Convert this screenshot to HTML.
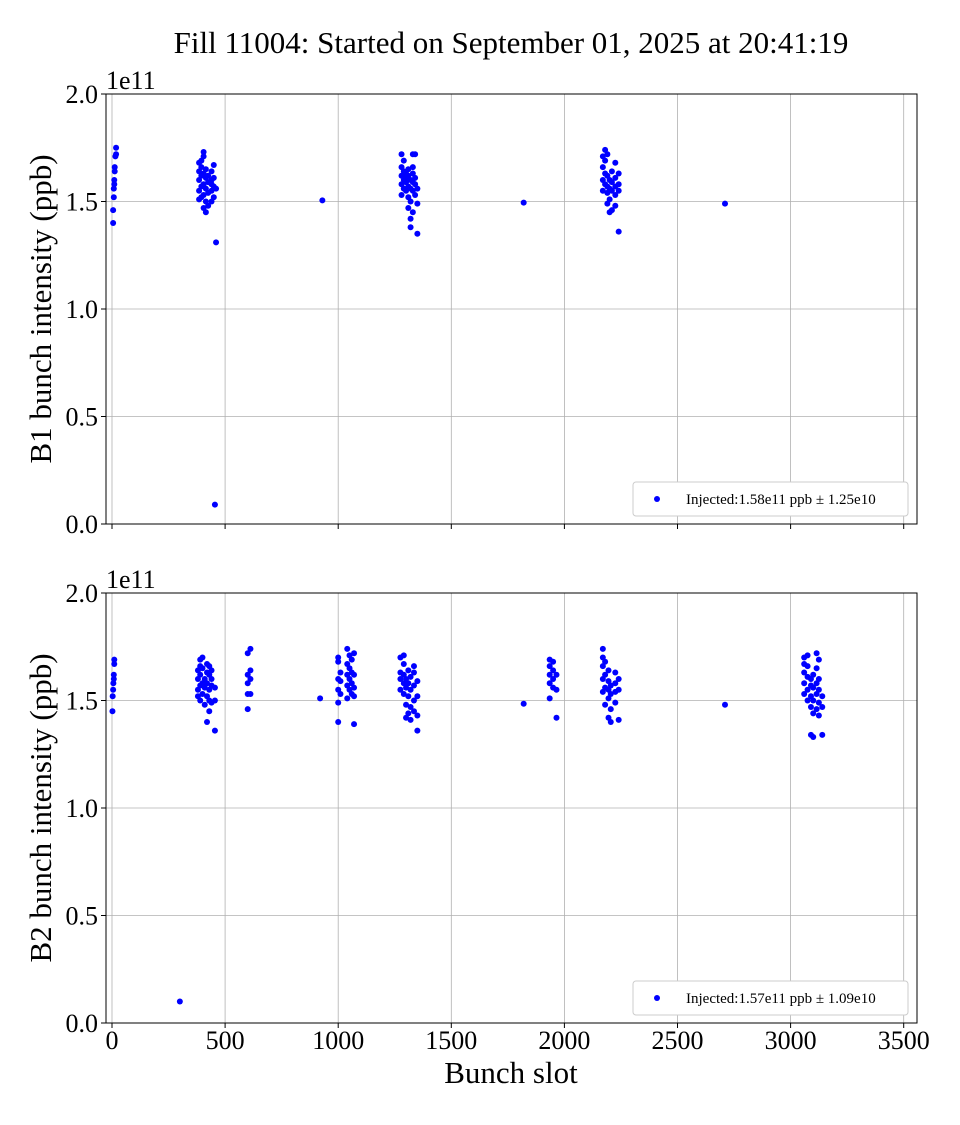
<!DOCTYPE html>
<html><head><meta charset="utf-8"><style>
body{margin:0;background:#fff}
svg text{font-family:"Liberation Serif",serif;fill:#000}
</style></head><body>
<svg id="chart" width="960" height="1120">
<text x="511" y="53" font-size="31" text-anchor="middle">Fill 11004: Started on September 01, 2025 at 20:41:19</text>
</svg>
<script>
const xTicks=[0,500,1000,1500,2000,2500,3000,3500];
const yTicks=[0,0.5,1.0,1.5,2.0];
const b1Groups=[
[5,[1.40,1.46]],[8,[1.52,1.56]],[10,[1.58,1.60]],[12,[1.64,1.66]],[15,[1.71]],[18,[1.72,1.75]],
[385,[1.51,1.55,1.60,1.64,1.68]],[395,[1.52,1.57,1.62,1.66,1.69]],[405,[1.47,1.53,1.58,1.63,1.71,1.73]],
[415,[1.45,1.50,1.56,1.61,1.65]],[425,[1.48,1.54,1.59,1.62]],[440,[1.50,1.55,1.58,1.60,1.64]],
[450,[1.52,1.57,1.61,1.67]],[455,[0.09]],[460,[1.31,1.56]],
[930,[1.505]],
[1280,[1.53,1.58,1.62,1.66,1.72]],[1290,[1.56,1.60,1.64,1.69]],[1300,[1.55,1.59,1.61,1.63]],
[1310,[1.47,1.52,1.57,1.62,1.65]],[1320,[1.38,1.42,1.50,1.56,1.60]],[1330,[1.45,1.55,1.59,1.63,1.66,1.72]],
[1340,[1.53,1.58,1.61,1.72]],[1350,[1.35,1.49,1.56]],
[1820,[1.495]],
[2170,[1.55,1.60,1.66,1.71]],[2180,[1.58,1.63,1.69,1.74]],[2190,[1.49,1.54,1.57,1.62,1.72]],
[2200,[1.45,1.51,1.56,1.60]],[2210,[1.46,1.55,1.59,1.64]],[2225,[1.48,1.53,1.57,1.61,1.68]],
[2240,[1.36,1.55,1.58,1.63]],
[2710,[1.49]]];
const b2Groups=[
[2,[1.45]],[3,[1.52]],[5,[1.55]],[6,[1.58]],[8,[1.60,1.62]],[10,[1.67,1.69]],
[300,[0.10]],
[380,[1.52,1.55,1.60,1.64]],[390,[1.50,1.57,1.62,1.66,1.69]],[400,[1.53,1.58,1.65,1.70]],
[410,[1.48,1.56,1.60]],[420,[1.40,1.52,1.58,1.63,1.67]],[430,[1.45,1.50,1.55,1.62,1.66]],
[440,[1.49,1.57,1.60,1.64]],[455,[1.36,1.50,1.56]],
[600,[1.46,1.53,1.58,1.62,1.72]],[612,[1.53,1.60,1.64,1.74]],
[920,[1.51]],
[1000,[1.40,1.49,1.55,1.60,1.68,1.70]],[1010,[1.53,1.59,1.63]],[1040,[1.51,1.57,1.62,1.67,1.74]],
[1050,[1.55,1.60,1.65,1.71]],[1060,[1.53,1.58,1.63,1.69]],[1070,[1.39,1.52,1.56,1.62,1.72]],
[1275,[1.55,1.60,1.63,1.70]],[1290,[1.53,1.58,1.62,1.67,1.71]],[1300,[1.42,1.48,1.56,1.60]],
[1310,[1.44,1.52,1.58,1.64]],[1320,[1.41,1.47,1.55,1.61]],[1335,[1.45,1.50,1.57,1.63,1.66]],
[1350,[1.36,1.43,1.52,1.59]],
[1820,[1.485]],
[1935,[1.51,1.58,1.62,1.66,1.69]],[1950,[1.56,1.60,1.64,1.68]],[1965,[1.42,1.55,1.62]],
[2170,[1.54,1.60,1.66,1.70,1.74]],[2180,[1.48,1.56,1.62,1.68]],[2195,[1.42,1.51,1.55,1.59,1.64]],
[2205,[1.40,1.46,1.53,1.57]],[2225,[1.49,1.54,1.58,1.63]],[2240,[1.41,1.55,1.60]],
[2710,[1.48]],
[3060,[1.53,1.58,1.63,1.67,1.70]],[3075,[1.50,1.55,1.61,1.66,1.71]],[3090,[1.34,1.47,1.52,1.57,1.60]],
[3100,[1.33,1.44,1.50,1.56,1.62]],[3115,[1.46,1.53,1.58,1.65,1.72]],[3125,[1.43,1.49,1.55,1.60,1.69]],
[3140,[1.34,1.47,1.52]]];
const legendLabels=["Injected:1.58e11 ppb \u00b1 1.25e10","Injected:1.57e11 ppb \u00b1 1.09e10"];
const yLabels=["B1 bunch intensity (ppb)","B2 bunch intensity (ppb)"];

const NS="http://www.w3.org/2000/svg";
const svg=document.getElementById('chart');
const L=106,R=917;
const xs=v=>112+v*0.2262;
function mk(tag,attrs,parent){const e=document.createElementNS(NS,tag);for(const k in attrs)e.setAttribute(k,attrs[k]);(parent||svg).appendChild(e);return e;}
function panel(idx,top,groups){
  const bot=top+430;
  const ys=v=>bot-v*215;
  const g=mk('g',{});
  
  
  xTicks.forEach(t=>{const l=mk('line',{x1:xs(t),x2:xs(t),y1:top,y2:bot,stroke:'#b0b0b0','stroke-width':0.8},g);
    
    mk('line',{x1:xs(t),x2:xs(t),y1:bot,y2:bot+5,stroke:'#000'},g);
    if(idx===1){const tx=mk('text',{x:xs(t),y:bot+26,'font-size':26,'text-anchor':'middle'},g);tx.textContent=t;
      }});
  yTicks.forEach(t=>{const l=mk('line',{x1:L,x2:R,y1:ys(t),y2:ys(t),stroke:'#b0b0b0','stroke-width':0.8},g);
    
    mk('line',{x1:L-5,x2:L,y1:ys(t),y2:ys(t),stroke:'#000'},g);
    const tx=mk('text',{x:L-8,y:ys(t)+9,'font-size':26,'text-anchor':'end'},g);tx.textContent=t.toFixed(1);
    });
  const off=mk('text',{x:L,y:top-5,'font-size':26},g);off.textContent='1e11';
  
  const yl=mk('text',{x:0,y:0,'font-size':31,'text-anchor':'middle',transform:`translate(51,${(top+bot)/2}) rotate(-90)`},g);
  yl.textContent=yLabels[idx];
  
  groups.forEach(([s,vals])=>vals.forEach(v=>{const c=mk('circle',{cx:xs(s),cy:ys(v),r:3,fill:'#0000ff'},g);
    }));
  const fr=mk('rect',{x:L,y:top,width:R-L,height:bot-top,fill:'none',stroke:'#000','stroke-width':1},g);
  
  const lg=mk('g',{},g);
  
  mk('rect',{x:633,y:bot-42,width:275,height:34,rx:3,fill:'#fff',stroke:'#ccc'},lg);
  mk('circle',{cx:657,cy:bot-25,r:3,fill:'#0000ff'},lg);
  const lt=mk('text',{x:686,y:bot-20,'font-size':15},lg);lt.textContent=legendLabels[idx];
  
}
panel(0,94,b1Groups);
panel(1,593,b2Groups);
const xt=mk('text',{x:511,y:1083,'font-size':31,'text-anchor':'middle'});
xt.textContent='Bunch slot';


</script>
</body></html>
